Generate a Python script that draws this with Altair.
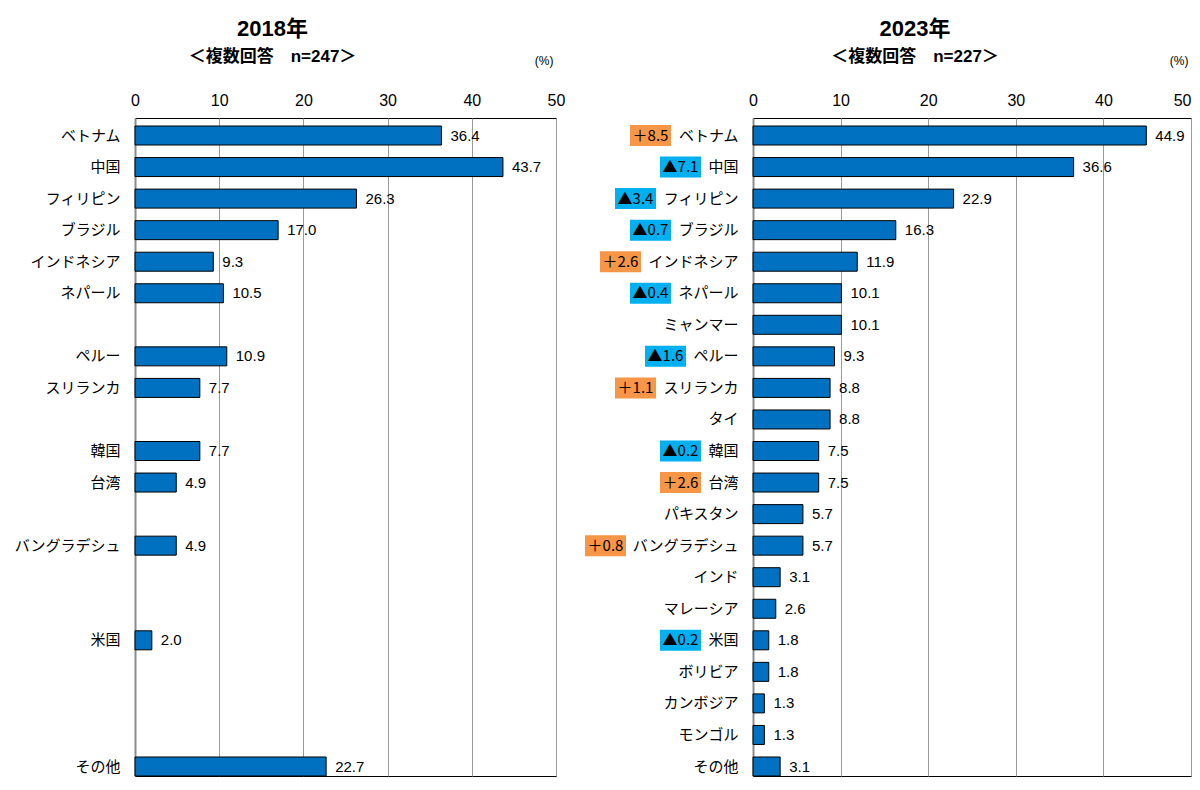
import altair as alt
import pandas as pd

# ---- data ----
countries = ["ベトナム", "中国", "フィリピン", "ブラジル", "インドネシア", "ネパール", "ミャンマー",
             "ペルー", "スリランカ", "タイ", "韓国", "台湾", "パキスタン", "バングラデシュ",
             "インド", "マレーシア", "米国", "ボリビア", "カンボジア", "モンゴル", "その他"]
values_2023 = [44.9, 36.6, 22.9, 16.3, 11.9, 10.1, 10.1, 9.3, 8.8, 8.8, 7.5, 7.5, 5.7, 5.7,
               3.1, 2.6, 1.8, 1.8, 1.3, 1.3, 3.1]
change_labels = ["＋8.5", "▲7.1", "▲3.4", "▲0.7", "＋2.6", "▲0.4", "", "▲1.6", "＋1.1", "",
                 "▲0.2", "＋2.6", "", "＋0.8", "", "", "▲0.2", "", "", "", ""]

countries_2018 = ["ベトナム", "中国", "フィリピン", "ブラジル", "インドネシア", "ネパール",
                  "ペルー", "スリランカ", "韓国", "台湾", "バングラデシュ", "米国", "その他"]
values_2018 = [36.4, 43.7, 26.3, 17.0, 9.3, 10.5, 10.9, 7.7, 7.7, 4.9, 4.9, 2.0, 22.7]

ticks = [0, 10, 20, 30, 40, 50]

df18 = pd.DataFrame({"country": countries_2018, "value": values_2018})
df23 = pd.DataFrame({"country": countries, "value": values_2023, "change": change_labels})

JP = "Noto Sans CJK JP"
NUM = "Liberation Sans"
BAR = "#0070C0"

W_L, W_R, H = 421, 438, 658


def y_enc(label_expr=None):
    ax = dict(title=None, ticks=False, labelPadding=15, labelFontSize=15, labelFont=JP,
              labelColor="black", domainColor="#8c8c8c", domainWidth=2, grid=False)
    if label_expr:
        ax["labelExpr"] = label_expr
    return alt.Y("country:N", sort=countries,
                 scale=alt.Scale(domain=countries, paddingInner=0.398, paddingOuter=0.127,
                                 align=1),
                 axis=alt.Axis(**ax))


def x_axis(w, last_right=False):
    extra = {}
    if last_right:
        extra["labelAlign"] = {"condition": {"test": "datum.value == 50", "value": "right"},
                               "value": "center"}
    return alt.Axis(orient="top", values=ticks, title="(%)", titleFontSize=12, titleFont=NUM,
                    titleFontWeight="normal", titleColor="black", titleAnchor="end",
                    titleAlign="right", titleX=w - 3, titleY=-58, titleBaseline="middle",
                    labelFontSize=16, labelFont=NUM, labelColor="black", labelPadding=10,
                    labelFlush=False, ticks=False, domain=False, grid=True,
                    gridColor="#9a9a9a", gridWidth=1, **extra)


def x_scale():
    return alt.Scale(domain=[0, 50], nice=False, zero=True)


def panel(df, w, label_expr, last_right):
    base = alt.Chart(df)
    bars = base.mark_bar(color=BAR, stroke="black", strokeWidth=1).encode(
        x=alt.X("value:Q", scale=x_scale(), axis=x_axis(w, last_right)),
        y=y_enc(label_expr),
    )
    txt = base.mark_text(align="left", dx=9, fontSize=15, font=NUM, color="black").encode(
        x=alt.X("value:Q", scale=x_scale(), axis=x_axis(w, last_right)),
        y=y_enc(label_expr),
        text=alt.Text("value:Q", format=".1f"),
    )
    return bars, txt


names18 = "[" + ",".join("'" + c + "'" for c in countries_2018) + "]"
left_bars, left_txt = panel(df18, W_L,
                            f"indexof({names18}, datum.value) >= 0 ? datum.value : ''", False)
right_bars, right_txt = panel(df23, W_R, None, True)

# badges on the 2023 panel
px = W_R / 50.0
badge = (alt.Chart(df23)
         .transform_filter("datum.change != ''")
         .transform_calculate(
             dir="indexof(datum.change, '▲') == 0 ? 'down' : 'up'",
             r=f"-(15 + length(datum.country) * 15 + 7) / {px}",
         )
         .transform_calculate(l=f"datum.r - 41 / {px}")
         .transform_calculate(c="(datum.l + datum.r) / 2"))
badge_rect = badge.mark_bar(size=21).encode(
    x=alt.X("l:Q", scale=x_scale(), axis=x_axis(W_R, True)),
    x2="r:Q",
    y=y_enc(),
    color=alt.Color("dir:N", scale=alt.Scale(domain=["up", "down"], range=["#F79646", "#00B0F0"]),
                    legend=None),
)
badge_txt = badge.mark_text(align="center", baseline="middle", fontSize=15, font=JP,
                            color="black").encode(
    x=alt.X("c:Q", scale=x_scale(), axis=x_axis(W_R, True)),
    y=y_enc(),
    text="change:N",
)


def title(t, s, dx):
    return alt.TitleParams(text=t, subtitle=s, fontSize=22, font=NUM + ", " + JP,
                           fontWeight="bold", color="black", subtitleFontSize=17,
                           subtitleFont=NUM + ", " + JP, subtitleFontWeight="bold",
                           subtitleColor="black", anchor="middle", dx=dx, offset=-12,
                           subtitlePadding=8)


left = alt.layer(left_bars, left_txt).properties(
    width=W_L, height=H, title=title("2018年", "＜複数回答　n=247＞", -73))
right = alt.layer(right_bars, right_txt, badge_rect, badge_txt).properties(
    width=W_R, height=H, title=title("2023年", "＜複数回答　n=227＞", -57))

chart = (alt.hconcat(left, right, spacing=197, bounds="flush")
         .configure_view(stroke="black", strokeWidth=1)
         .properties(padding={"left": 6, "top": 9, "right": 0, "bottom": 0},
                     background="white"))

chart.save("out.html", embed_options={"renderer": "svg", "actions": False})
